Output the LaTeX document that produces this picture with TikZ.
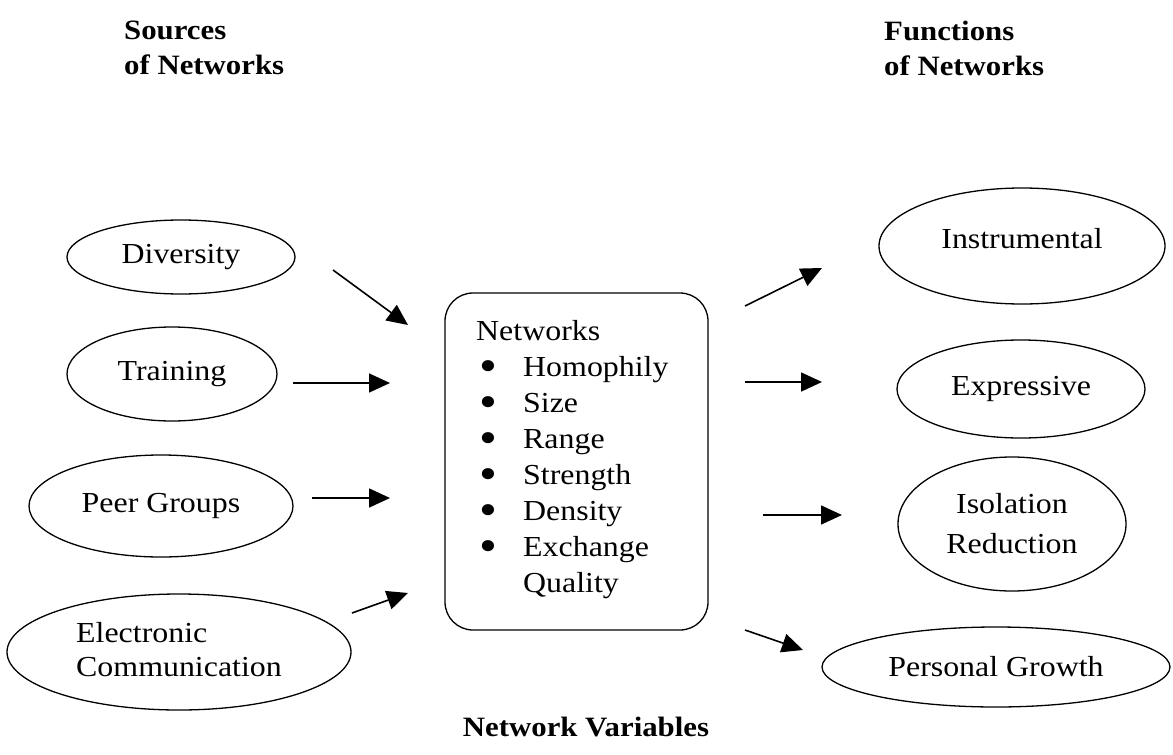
\documentclass[tikz,border=0pt]{standalone}
\usepackage{fontspec}
\setmainfont[FakeStretch=1.1]{Liberation Serif}
\usetikzlibrary{shapes.geometric,arrows.meta}
\newcommand{\bul}{\makebox[47pt][l]{\hspace*{3pt}\raisebox{-5pt}[0pt][0pt]{\scalebox{1.6}{•}}}}
\tikzset{
  oval/.style={draw, ellipse, line width=1.3pt, inner sep=0pt, font=\fontsize{29}{36}\selectfont},
  title/.style={font=\fontsize{28}{35}\selectfont\bfseries, align=left, inner sep=0pt},
  arr/.style={line width=1.6pt, -{Triangle[length=21pt,width=19pt]}},
  varbox/.style={draw, rounded corners=28pt, line width=1.3pt, inner sep=0pt, minimum width=263pt, minimum height=337pt},
  boxtext/.style={font=\fontsize{29}{36}\selectfont, align=left, inner sep=0pt, text width=220pt}
}
\begin{document}
\begin{tikzpicture}[x=1pt,y=-1pt]
\useasboundingbox (0,0) rectangle (1173,755);
% titles
\node[title, anchor=north west] (src) at (124,21) {Sources\\of Networks};
\node[title, anchor=north west] (fun) at (884,21) {Functions\\of Networks};
\node[title] (nv) at (586,727) {Network Variables};
% left ovals
\node[oval, minimum width=228pt, minimum height=74pt] (div) at (181,257) {Diversity};
\node[oval, minimum width=210pt, minimum height=94pt] (tra) at (172,374) {Training};
\node[oval, minimum width=264pt, minimum height=102pt] (peer) at (161,506) {Peer Groups};
\node[oval, minimum width=344pt, minimum height=116pt] (elec) at (179,652) {\raisebox{-7pt}{\begin{tabular}{@{}l@{}}Electronic\\[-2pt]Communication\end{tabular}}};
% box
\node[varbox] (net) at (576.5,461.5) {};
\node[boxtext, anchor=north west] (netlist) at (476,320) {Networks\\
\bul Homophily\\
\bul Size\\
\bul Range\\
\bul Strength\\
\bul Density\\
\bul Exchange\\
\hspace*{47pt}Quality};
% right ovals
\node[oval, minimum width=286pt, minimum height=116pt] (inst) at (1022,246) {\raisebox{15pt}{Instrumental}};
\node[oval, minimum width=248pt, minimum height=98pt] (expr) at (1021,389) {Expressive};
\node[oval, minimum width=228pt, minimum height=134pt, align=center, font=\fontsize{29}{40}\selectfont] (iso) at (1012,524) {Isolation\\Reduction};
\node[oval, minimum width=348pt, minimum height=80pt] (pg) at (996,667) {Personal Growth};
% arrow end points
\coordinate (a1s) at (333,270); \coordinate (a1e) at (408,325);
\coordinate (a2s) at (293,383); \coordinate (a2e) at (390,383);
\coordinate (a3s) at (312,498); \coordinate (a3e) at (390,498);
\coordinate (a4s) at (352,613); \coordinate (a4e) at (408,593);
\coordinate (b1s) at (745,306); \coordinate (b1e) at (822,268);
\coordinate (b2s) at (745,382); \coordinate (b2e) at (822,382);
\coordinate (b3s) at (763,515); \coordinate (b3e) at (842,515);
\coordinate (b4s) at (745,630); \coordinate (b4e) at (803,650);
\draw[arr] (a1s) -- (a1e);
\draw[arr] (a2s) -- (a2e);
\draw[arr] (a3s) -- (a3e);
\draw[arr] (a4s) -- (a4e);
\draw[arr] (b1s) -- (b1e);
\draw[arr] (b2s) -- (b2e);
\draw[arr] (b3s) -- (b3e);
\draw[arr] (b4s) -- (b4e);
\end{tikzpicture}
\end{document}
